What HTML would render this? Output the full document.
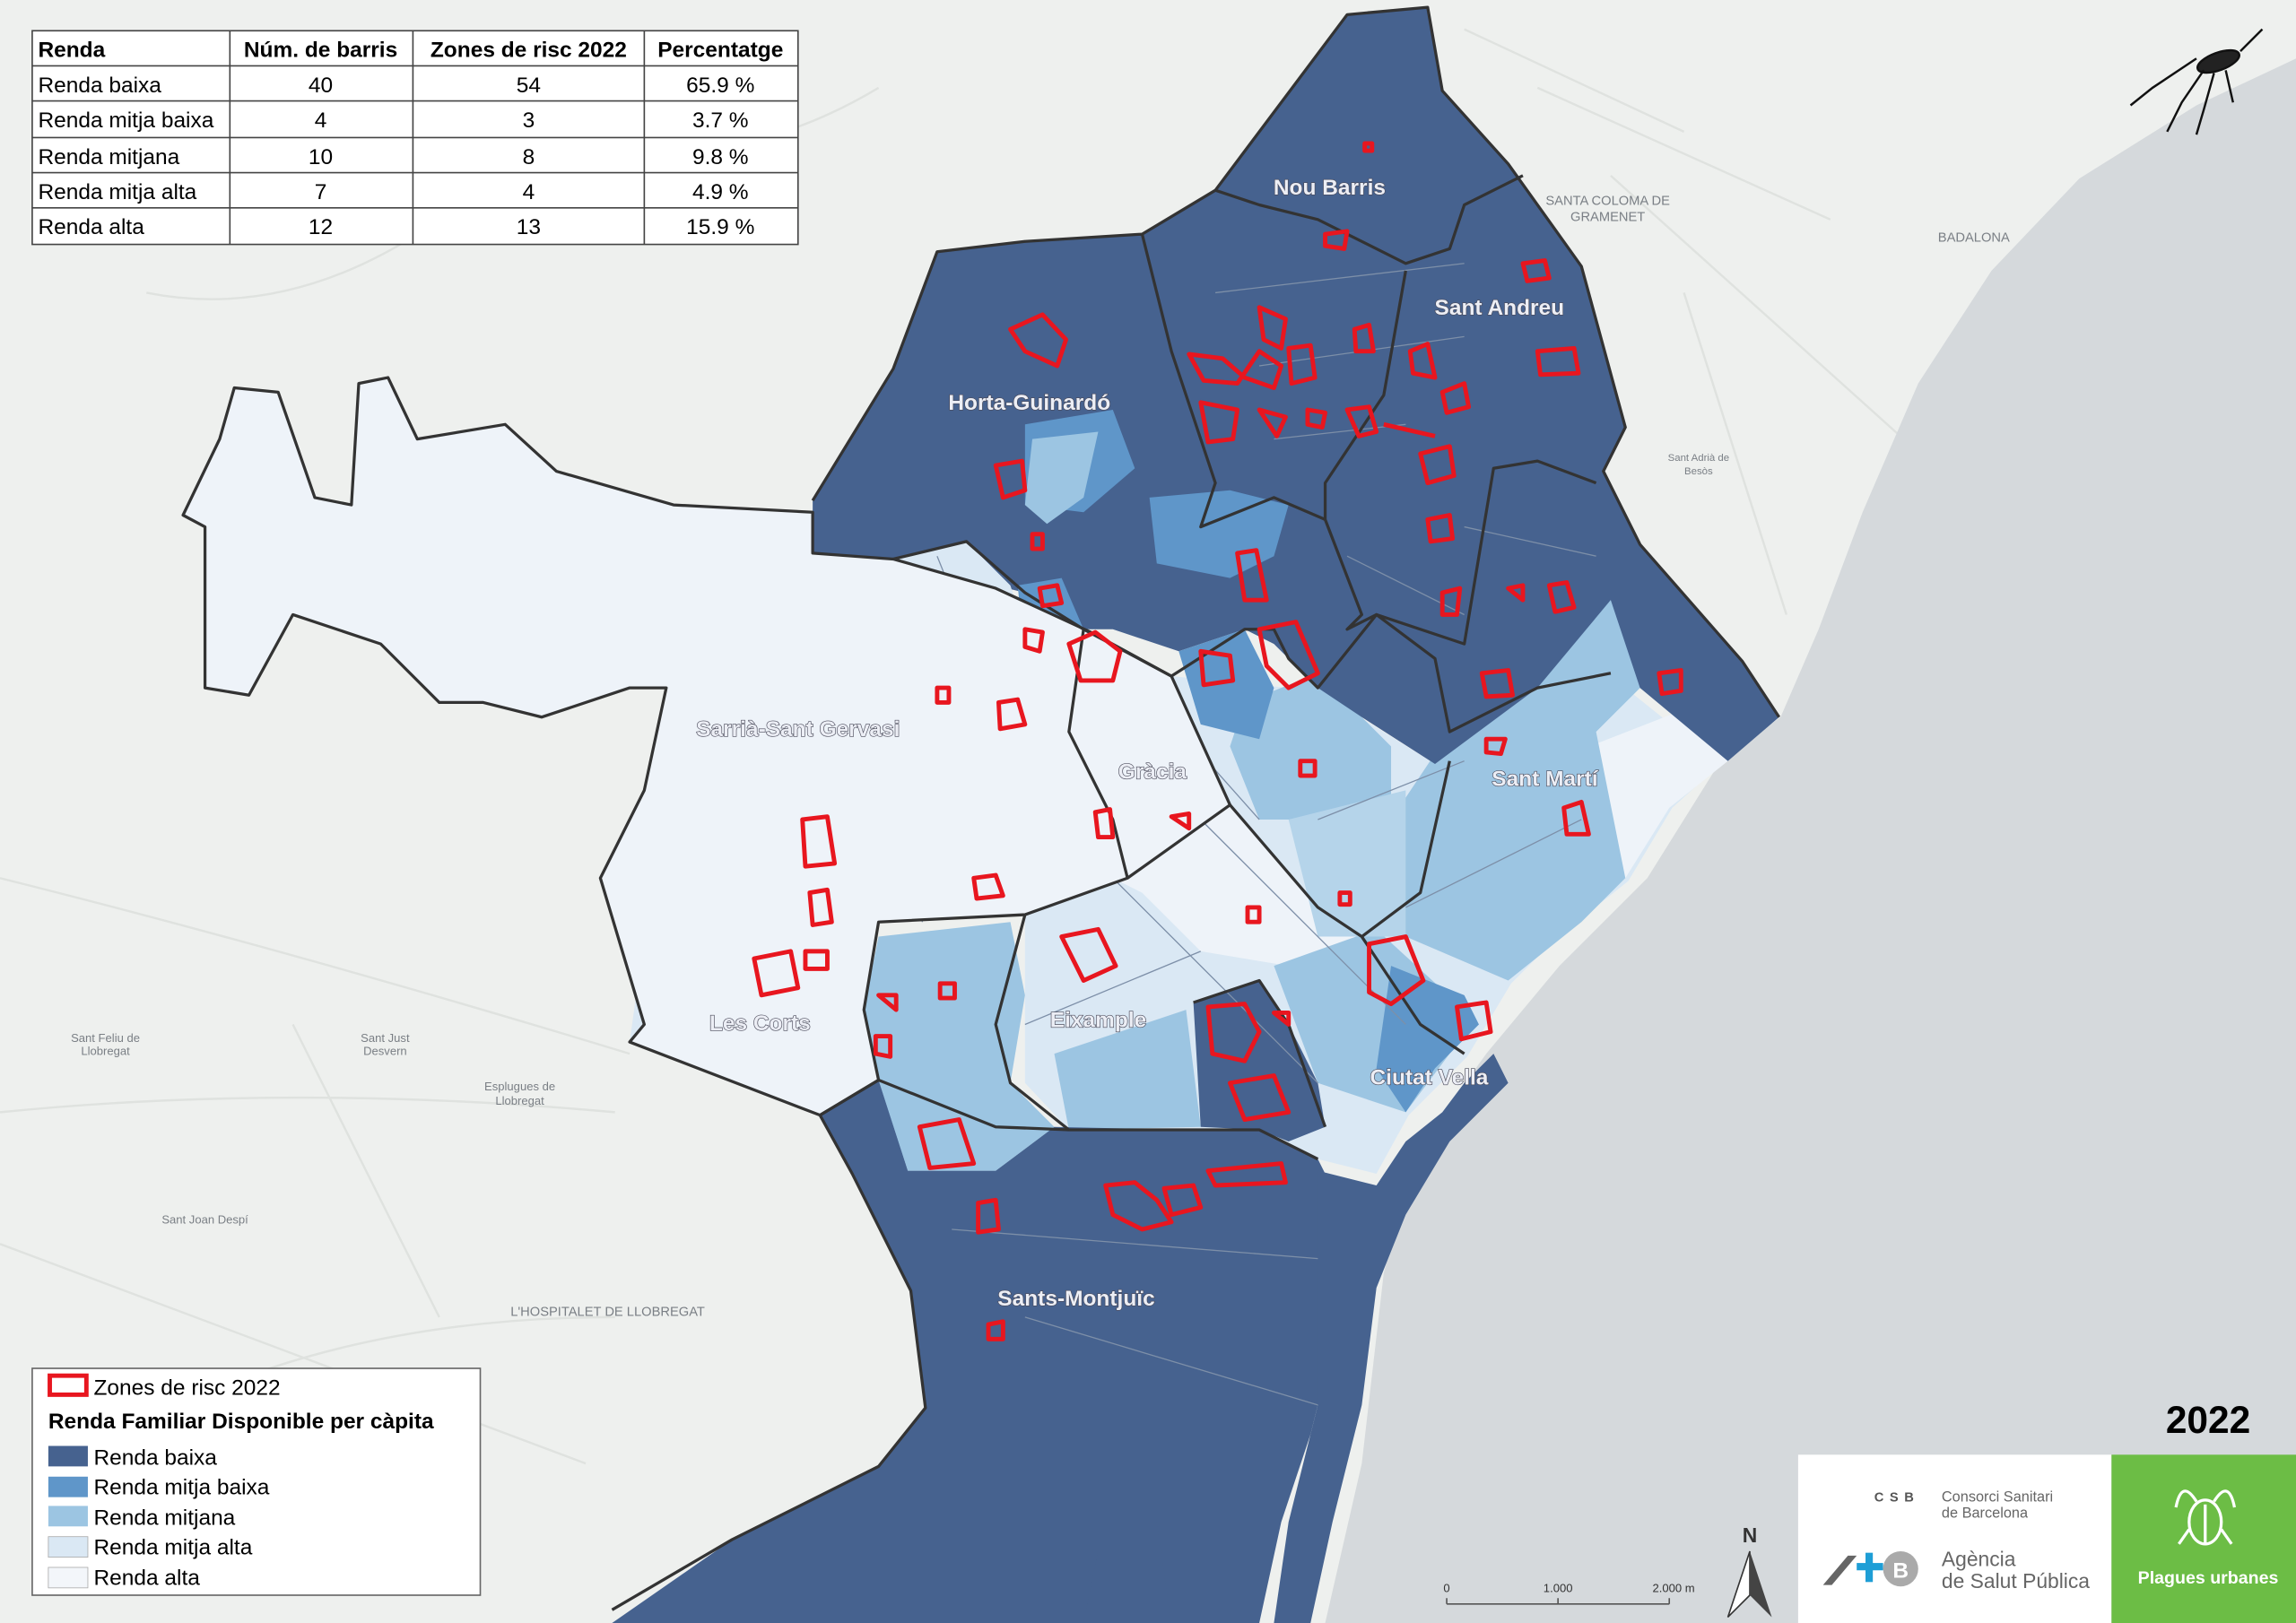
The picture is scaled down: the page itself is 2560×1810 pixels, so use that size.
<!DOCTYPE html>
<html><head><meta charset="utf-8"><style>
html,body{margin:0;padding:0;background:#eef0ee;}
svg{display:block;}
text{font-family:"Liberation Sans",sans-serif;}
.lbl{font-weight:bold;font-size:15px;fill:#eceef5;stroke:#4a4a5a;stroke-width:0.8px;paint-order:stroke;}
.red{fill:none;stroke:#e8161f;stroke-width:3;stroke-linejoin:round;}
.dist{fill:none;stroke:#333;stroke-width:2;stroke-linejoin:round;}
.sub{fill:none;stroke:#7d8fa8;stroke-width:0.8;}
</style></head><body>
<svg width="2560" height="1810" viewBox="0 0 1568 1109" preserveAspectRatio="none" xmlns="http://www.w3.org/2000/svg">
<rect width="1568" height="1109" fill="#eef0ee"/>
<g stroke="#dfe2df" stroke-width="1.5" fill="none">
<path d="M0 600 Q200 650 430 720"/><path d="M0 760 Q200 740 420 760"/><path d="M50 1000 Q200 900 420 900"/>
<path d="M1100 120 L1300 300"/><path d="M1050 60 L1250 150"/><path d="M1150 200 L1220 420"/>
<path d="M300 50 Q450 150 600 60"/><path d="M100 200 Q200 220 300 150"/><path d="M0 850 L400 1000"/>
<path d="M200 700 L300 900"/><path d="M1000 20 L1150 90"/>
</g>
<path d="M1568 40 L1500 72 L1420 122 L1360 185 L1310 262 L1272 350 L1242 430 L1216 490 L1175 520 L1125 600 L1065 660 L1015 720 L965 790 L945 870 L930 1000 L905 1109 L1568 1109 Z" fill="#d5d9dc"/>
<!-- Sarria + Les Corts light -->
<path id="west" d="M125 352 L150 300 L160 265 L190 268 L215 340 L240 345 L245 262 L265 258 L285 300 L345 290 L380 322 L460 345 L555 350 L555 378 L610 382 L680 402 L745 432 L800 462 L840 550 L770 600 L700 625 L600 630 L590 690 L600 738 L560 762 L430 712 L440 700 L425 650 L410 600 L440 540 L455 470 L430 470 L370 490 L330 480 L300 480 L260 440 L200 420 L170 475 L140 470 L140 360 Z" fill="#eef3f9"/>
<path d="M430 712 L560 762 L600 738 L590 690 L600 630 L555 640 L500 600 L450 555 L440 640 Z" fill="#dae8f4"/>
<path d="M610 382 L660 370 L690 400 L700 430 L730 460 L720 480 L680 460 L650 430 Z" fill="#dae8f4"/>
<!-- middle -->
<path d="M745 432 L800 462 L900 472 L980 522 L1050 472 L1100 462 L1175 522 L1142 552 L1112 602 L1062 642 L1032 672 L1002 722 L962 762 L940 802 L900 792 L860 772 L810 772 L730 772 L700 740 L700 625 L770 600 L840 550 L800 462 Z" fill="#dae8f4"/>
<path d="M1060 520 L1175 475 L1180 520 L1140 552 L1110 600 L1062 640 L1030 670 L970 620 Z" fill="#eef3f9"/>
<path d="M760 600 L840 550 L900 620 L930 640 L880 660 L820 650 L780 610 Z" fill="#eef3f9"/>
<g fill="#9cc5e2">
<path d="M735 490 L790 480 L830 550 L790 570 L760 600 L740 560 Z"/>
<path d="M990 500 L1050 470 L1100 460 L1120 470 L1090 500 L1110 600 L1080 630 L1030 670 L960 640 L950 560 Z"/>
<path d="M600 640 L690 630 L700 680 L690 740 L720 770 L680 800 L620 800 L600 740 L590 690 Z"/>
<path d="M720 720 L780 700 L810 690 L820 770 L730 772 Z"/>
<path d="M870 660 L940 635 L1000 690 L990 720 L960 760 L900 740 Z"/>
<path d="M850 480 L900 460 L950 510 L950 560 L860 560 L840 510 Z"/>
<path d="M880 560 L960 540 L960 640 L900 640 Z" fill="#b5d4ea"/>
</g>
<!-- dark north/east -->
<path d="M555 342 L610 252 L640 172 L700 165 L780 160 L830 130 L920 10 L975 5 L985 62 L1030 112 L1080 182 L1110 292 L1095 322 L1120 372 L1190 452 L1215 490 L1180 520 L1120 470 L1100 460 L1050 470 L980 522 L930 490 L900 470 L870 440 L850 430 L805 445 L760 430 L740 430 L700 405 L680 400 L610 382 L555 378 Z" fill="#46628f"/>
<path d="M700 290 L760 280 L775 320 L740 350 L700 345 Z" fill="#5f96c9"/>
<path d="M705 300 L750 295 L740 340 L715 358 L700 345 Z" fill="#9cc5e2"/>
<path d="M785 340 L840 335 L880 345 L870 380 L840 395 L790 385 Z" fill="#5f96c9"/>
<path d="M610 382 L660 370 L690 400 L700 430 L730 460 L720 480 L680 460 L650 430 Z" fill="#dae8f4"/>
<path d="M695 400 L725 395 L740 430 L700 450 Z" fill="#5f96c9"/>
<path d="M805 445 L850 430 L870 470 L860 505 L820 495 Z" fill="#5f96c9"/>
<path d="M1050 470 L1100 410 L1120 470 L1090 500 L1050 500 Z" fill="#9cc5e2"/>
<path d="M815 685 L860 670 L880 700 L900 740 L905 770 L880 780 L860 772 L820 770 Z" fill="#46628f"/>
<path d="M950 660 L1000 680 L1010 700 L980 730 L960 760 L940 730 Z" fill="#5f96c9"/>
<!-- Sants-Montjuic -->
<path d="M560 762 L600 738 L620 800 L680 800 L720 770 L810 772 L860 772 L900 792 L920 832 L915 900 L895 980 L875 1040 L860 1109 L418 1109 L500 1052 L600 1002 L632 962 L622 882 L582 802 Z" fill="#46628f"/>
<path d="M600 738 L680 740 L720 770 L680 800 L620 800 Z" fill="#9cc5e2"/>
<g fill="#46628f">
<path d="M900 800 L940 810 L960 780 L985 760 L1000 740 L1020 720 L1030 740 L990 780 L960 830 L940 880 L930 960 L910 1040 L895 1109 L870 1109 L880 1040 L900 960 Z"/>
<path d="M750 1060 L790 1040 L800 1109 L740 1109 Z"/>
</g>
<g class="sub">
<path d="M640 380 L660 430 L700 470 L720 520"/><path d="M560 520 L640 530 L700 480"/><path d="M600 560 L630 630"/>
<path d="M780 470 L860 560"/><path d="M830 200 L1000 180"/><path d="M860 250 L1000 230"/><path d="M870 300 L960 290"/>
<path d="M1000 360 L1090 380"/><path d="M920 380 L1000 420"/><path d="M760 600 L900 740"/><path d="M820 560 L960 700"/>
<path d="M700 700 L820 650"/><path d="M900 560 L1000 520"/><path d="M960 620 L1080 560"/>
<path d="M650 840 L900 860"/><path d="M700 900 L900 960"/>
</g>
<g class="dist">
<use href="#west" fill="none"/>
<path d="M555 342 L610 252 L640 172 L700 165 L780 160 L830 130 L920 10 L975 5 L985 62 L1030 112 L1080 182 L1110 292 L1095 322 L1120 372 L1190 452 L1215 490"/>
<path d="M780 160 L800 240 L830 330 L820 360 L870 340 L905 355"/>
<path d="M830 130 L860 140 L900 150 L960 180 L990 170 L1000 140 L1040 120"/>
<path d="M960 185 L945 270 L905 330 L905 355 L930 420 L920 430 L940 420 L1000 440 L1020 320 L1050 315 L1090 330"/>
<path d="M610 382 L660 370 L700 405 L740 430 L800 462 L850 430 L870 430 L880 450 L900 470 L940 420 L980 450 L990 500 L1050 470 L1100 460"/>
<path d="M740 430 L730 500 L760 560 L770 600"/>
<path d="M840 550 L900 620 L930 640 L970 700 L1000 720"/>
<path d="M930 640 L970 610 L990 520"/>
<path d="M560 762 L600 738 L680 770 L730 772 L810 772 L860 772 L900 792"/>
<path d="M560 762 L582 802 L622 882 L632 962 L600 1002 L500 1052 L418 1100"/>
<path d="M700 625 L680 700 L690 740 L730 772"/>
<path d="M815 685 L860 670 L880 700 L905 770"/>
</g>
<g class="red">
<path d="M690 225 L712 215 L728 232 L722 250 L700 240 Z"/>
<path d="M905 160 L920 158 L918 170 L905 168 Z"/>
<path d="M932 98 L937 98 L937 103 L932 103 Z"/>
<path d="M1040 180 L1055 178 L1058 190 L1043 192 Z"/>
<path d="M860 210 L878 218 L875 238 L863 232 Z"/>
<path d="M880 238 L895 236 L898 258 L882 262 Z"/>
<path d="M925 225 L935 222 L938 240 L926 240 Z"/>
<path d="M812 242 L835 245 L850 258 L870 265 L875 250 L860 240 L845 262 L822 260 Z"/>
<path d="M820 275 L845 280 L842 300 L825 302 Z"/>
<path d="M860 280 L878 285 L872 298 Z"/>
<path d="M893 280 L905 282 L903 292 L893 290 Z"/>
<path d="M920 280 L935 278 L940 295 L928 298 Z"/>
<path d="M945 290 L980 298"/>
<path d="M963 240 L975 235 L980 258 L965 255 Z"/>
<path d="M985 268 L1000 262 L1003 278 L988 282 Z"/>
<path d="M970 310 L990 305 L993 325 L975 330 Z"/>
<path d="M975 355 L990 352 L992 368 L977 370 Z"/>
<path d="M1050 240 L1075 238 L1078 255 L1052 256 Z"/>
<path d="M985 405 L997 402 L995 420 L985 420 Z"/>
<path d="M1030 402 L1040 400 L1040 410 Z"/>
<path d="M1058 400 L1070 398 L1075 415 L1062 418 Z"/>
<path d="M1012 460 L1030 458 L1033 475 L1015 476 Z"/>
<path d="M1015 505 L1028 505 L1025 515 L1015 514 Z"/>
<path d="M1133 460 L1148 458 L1148 472 L1135 474 Z"/>
<path d="M680 318 L698 315 L700 335 L685 340 Z"/>
<path d="M705 365 L712 365 L712 375 L705 375 Z"/>
<path d="M845 378 L858 376 L865 410 L850 410 Z"/>
<path d="M710 402 L722 400 L725 412 L712 414 Z"/>
<path d="M700 430 L712 432 L710 445 L700 442 Z"/>
<path d="M730 440 L748 432 L765 445 L760 465 L738 465 Z"/>
<path d="M820 445 L840 448 L842 465 L822 468 Z"/>
<path d="M860 430 L885 425 L900 460 L880 470 L865 455 Z"/>
<path d="M640 470 L648 470 L648 480 L640 480 Z"/>
<path d="M682 480 L695 478 L700 495 L683 498 Z"/>
<path d="M888 520 L898 520 L898 530 L888 530 Z"/>
<path d="M748 555 L758 553 L760 572 L750 572 Z"/>
<path d="M800 558 L812 556 L812 566 Z"/>
<path d="M1068 552 L1080 548 L1085 570 L1070 570 Z"/>
<path d="M548 560 L565 558 L570 590 L550 592 Z"/>
<path d="M553 610 L565 608 L568 630 L555 632 Z"/>
<path d="M665 600 L680 598 L685 612 L667 614 Z"/>
<path d="M515 655 L540 650 L545 675 L520 680 Z"/>
<path d="M550 650 L565 650 L565 662 L550 662 Z"/>
<path d="M852 620 L860 620 L860 630 L852 630 Z"/>
<path d="M915 610 L922 610 L922 618 L915 618 Z"/>
<path d="M725 640 L750 635 L762 660 L740 670 Z"/>
<path d="M935 645 L960 640 L972 670 L950 686 L935 678 Z"/>
<path d="M995 688 L1015 685 L1018 705 L998 710 Z"/>
<path d="M642 672 L652 672 L652 682 L642 682 Z"/>
<path d="M600 680 L612 680 L612 690 Z"/>
<path d="M598 708 L608 708 L608 722 L598 720 Z"/>
<path d="M825 688 L850 686 L860 705 L850 725 L828 720 Z"/>
<path d="M840 740 L870 735 L880 760 L850 765 Z"/>
<path d="M870 692 L880 692 L880 700 Z"/>
<path d="M628 770 L655 765 L665 795 L635 798 Z"/>
<path d="M668 822 L680 820 L682 840 L668 842 Z"/>
<path d="M755 810 L775 808 L790 820 L800 835 L780 840 L760 830 Z"/>
<path d="M795 812 L815 810 L820 825 L800 830 Z"/>
<path d="M825 800 L875 795 L878 808 L830 810 Z"/>
<path d="M675 905 L685 903 L685 915 L675 915 Z"/>
</g>
<text class="lbl" x="908" y="133" text-anchor="middle">Nou Barris</text>
<text class="lbl" x="1024" y="215" text-anchor="middle">Sant Andreu</text>
<text class="lbl" x="703" y="280" text-anchor="middle">Horta-Guinardó</text>
<text class="lbl" x="545" y="503" text-anchor="middle">Sarrià-Sant Gervasi</text>
<text class="lbl" x="787" y="532" text-anchor="middle">Gràcia</text>
<text class="lbl" x="1055" y="537" text-anchor="middle">Sant Martí</text>
<text class="lbl" x="519" y="704" text-anchor="middle">Les Corts</text>
<text class="lbl" x="750" y="702" text-anchor="middle">Eixample</text>
<text class="lbl" x="976" y="741" text-anchor="middle">Ciutat Vella</text>
<text class="lbl" x="735" y="892" text-anchor="middle">Sants-Montjuïc</text>
<g font-size="9" fill="#7a7f85" text-anchor="middle">
<text x="1098" y="140">SANTA COLOMA DE</text><text x="1098" y="151">GRAMENET</text>
<text x="1348" y="165">BADALONA</text>
<text x="415" y="899">L'HOSPITALET DE LLOBREGAT</text>
<text x="355" y="745" font-size="8">Esplugues de</text><text x="355" y="755" font-size="8">Llobregat</text>
<text x="72" y="712" font-size="8">Sant Feliu de</text><text x="72" y="721" font-size="8">Llobregat</text>
<text x="263" y="712" font-size="8">Sant Just</text><text x="263" y="721" font-size="8">Desvern</text>
<text x="140" y="836" font-size="8">Sant Joan Despí</text>
<text x="1160" y="315" font-size="7">Sant Adrià de</text><text x="1160" y="324" font-size="7">Besòs</text>
</g>
<g font-size="15" fill="#000">
<rect x="22" y="21" width="523" height="146" fill="#fff" stroke="#444" stroke-width="1"/>
<g stroke="#444" stroke-width="1">
<line x1="157" y1="21" x2="157" y2="167"/><line x1="282" y1="21" x2="282" y2="167"/><line x1="440" y1="21" x2="440" y2="167"/>
<line x1="22" y1="45" x2="545" y2="45"/><line x1="22" y1="69" x2="545" y2="69"/><line x1="22" y1="94" x2="545" y2="94"/><line x1="22" y1="118" x2="545" y2="118"/><line x1="22" y1="142" x2="545" y2="142"/>
</g>
<g font-weight="bold"><text x="26" y="39">Renda</text><text x="219" y="39" text-anchor="middle">Núm. de barris</text><text x="361" y="39" text-anchor="middle">Zones de risc 2022</text><text x="492" y="39" text-anchor="middle">Percentatge</text></g>
<text x="26" y="63">Renda baixa</text><text x="26" y="87">Renda mitja baixa</text><text x="26" y="112">Renda mitjana</text><text x="26" y="136">Renda mitja alta</text><text x="26" y="160">Renda alta</text>
<g text-anchor="middle">
<text x="219" y="63">40</text><text x="219" y="87">4</text><text x="219" y="112">10</text><text x="219" y="136">7</text><text x="219" y="160">12</text>
<text x="361" y="63">54</text><text x="361" y="87">3</text><text x="361" y="112">8</text><text x="361" y="136">4</text><text x="361" y="160">13</text>
<text x="492" y="63">65.9 %</text><text x="492" y="87">3.7 %</text><text x="492" y="112">9.8 %</text><text x="492" y="136">4.9 %</text><text x="492" y="160">15.9 %</text>
</g>
</g>
<g font-size="15" fill="#000">
<rect x="22" y="935" width="306" height="155" fill="#fff" stroke="#666" stroke-width="1"/>
<rect x="34" y="940" width="25" height="13" fill="none" stroke="#e8161f" stroke-width="3"/>
<text x="64" y="953">Zones de risc 2022</text>
<text x="33" y="976" font-weight="bold">Renda Familiar Disponible per càpita</text>
<rect x="33" y="988" width="27" height="14" fill="#46628f"/><text x="64" y="1001">Renda baixa</text>
<rect x="33" y="1009" width="27" height="14" fill="#5f96c9"/><text x="64" y="1021">Renda mitja baixa</text>
<rect x="33" y="1029" width="27" height="14" fill="#9cc5e2"/><text x="64" y="1042">Renda mitjana</text>
<rect x="33" y="1050" width="27" height="14" fill="#dae8f4" stroke="#aaa" stroke-width="0.5"/><text x="64" y="1062">Renda mitja alta</text>
<rect x="33" y="1071" width="27" height="14" fill="#f3f6fa" stroke="#aaa" stroke-width="0.5"/><text x="64" y="1083">Renda alta</text>
</g>
<text x="1508" y="979" font-size="26" font-weight="bold" text-anchor="middle" fill="#000">2022</text>
<rect x="1228" y="994" width="214" height="115" fill="#fff"/>
<rect x="1442" y="994" width="126" height="115" fill="#6cbd45"/>
<text x="1280" y="1026" font-size="9" font-weight="bold" fill="#555" letter-spacing="4">CSB</text>
<text x="1326" y="1026" font-size="10" fill="#666">Consorci Sanitari</text>
<text x="1326" y="1037" font-size="10" fill="#666">de Barcelona</text>
<path d="M1245 1083 L1262 1063 L1268 1063 L1251 1083 Z" fill="#666"/>
<rect x="1268" y="1068" width="18" height="5" fill="#1e9ed6"/><rect x="1274" y="1061" width="5" height="20" fill="#1e9ed6"/>
<circle cx="1298" cy="1072" r="12" fill="#aaa"/><text x="1298" y="1078" font-size="15" font-weight="bold" fill="#fff" text-anchor="middle">B</text>
<text x="1326" y="1070" font-size="14" fill="#666">Agència</text>
<text x="1326" y="1085" font-size="14" fill="#666">de Salut Pública</text>
<g stroke="#fff" stroke-width="2" fill="none">
<ellipse cx="1506" cy="1040" rx="11" ry="15"/><line x1="1506" y1="1028" x2="1506" y2="1055"/>
<path d="M1500 1026 Q1490 1010 1486 1030"/><path d="M1512 1026 Q1522 1010 1526 1030"/>
<path d="M1495 1045 L1488 1055"/><path d="M1517 1045 L1524 1055"/>
</g>
<text x="1508" y="1082" font-size="12" font-weight="bold" fill="#fff" text-anchor="middle">Plagues urbanes</text>
<text x="1195" y="1054" font-size="14" font-weight="bold" text-anchor="middle" fill="#333">N</text>
<path d="M1195 1060 L1180 1105 L1195 1090 Z" fill="#fff" stroke="#333"/><path d="M1195 1060 L1210 1105 L1195 1090 Z" fill="#444"/>
<g stroke="#555" stroke-width="1"><line x1="988" y1="1096" x2="1140" y2="1096"/><line x1="988" y1="1092" x2="988" y2="1096"/><line x1="1064" y1="1092" x2="1064" y2="1096"/><line x1="1140" y1="1092" x2="1140" y2="1096"/></g>
<g font-size="8" fill="#333" text-anchor="middle"><text x="988" y="1088">0</text><text x="1064" y="1088">1.000</text><text x="1143" y="1088">2.000 m</text></g>
<g stroke="#111" stroke-width="1.5" fill="none">
<ellipse cx="1515" cy="42" rx="15" ry="6" fill="#222" transform="rotate(-20 1515 42)"/>
<path d="M1505 48 L1490 70 L1480 90"/><path d="M1512 50 L1505 75 L1500 92"/><path d="M1520 48 L1525 70"/>
<path d="M1500 40 L1470 60 L1455 72"/><path d="M1530 35 L1545 20"/>
</g>
</svg>
</body></html>
